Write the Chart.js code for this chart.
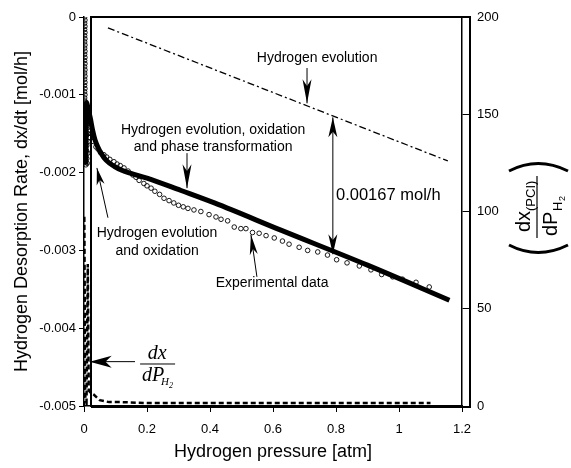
<!DOCTYPE html>
<html>
<head>
<meta charset="utf-8">
<script src="https://cdn.jsdelivr.net/npm/chart.js@4.4.0/dist/chart.umd.min.js"></script>
<style>
  html, body { margin: 0; padding: 0; background: #fff; }
</style>
</head>
<body>
<canvas id="chart" width="571" height="468"></canvas>
<script>
const SANS = '"Liberation Sans", Arial, Helvetica, sans-serif';
const SERIF = '"Liberation Serif", "Times New Roman", serif';

// axis ticks
const pressureTicks = [0, 0.2, 0.4, 0.6, 0.8, 1, 1.2];
const pressureLabels = ['0', '0.2', '0.4', '0.6', '0.8', '1', '1.2'];
const rateTicks = [0, -0.001, -0.002, -0.003, -0.004, -0.005];
const rateLabels = ['0', '-0.001', '-0.002', '-0.003', '-0.004', '-0.005'];
const slopeTicks = [0, 50, 100, 150, 200];
const slopeLabels = ['0', '50', '100', '150', '200'];

// experimental data (circles)
const expPressure = [
  0.002, 0.003, 0.002, 0.003, 0.002, 0.003, 0.002, 0.003, 0.002, 0.003,
  0.002, 0.003, 0.002, 0.003, 0.002, 0.003, 0.002, 0.003, 0.002, 0.003,
  0.002, 0.003, 0.002, 0.003, 0.002, 0.003, 0.002, 0.003,
  0.006, 0.010, 0.014, 0.004, 0.008, 0.012, 0.016, 0.005, 0.009, 0.013,
  0.018, 0.004, 0.008, 0.012, 0.016, 0.005, 0.009, 0.013, 0.004, 0.008,
  0.012, 0.005, 0.009, 0.006, 0.010,
  0.022, 0.030, 0.038, 0.045, 0.052, 0.063, 0.072, 0.082, 0.095, 0.105,
  0.115, 0.127, 0.140, 0.155, 0.165, 0.175, 0.190, 0.200, 0.213, 0.225,
  0.240, 0.254, 0.270, 0.285, 0.300, 0.315, 0.330,
  0.349, 0.371, 0.397, 0.419, 0.435, 0.456, 0.477, 0.498, 0.514, 0.535,
  0.556, 0.578, 0.604, 0.630, 0.651, 0.683, 0.710, 0.742, 0.773, 0.802,
  0.835, 0.874, 0.911, 0.945, 0.980, 1.011, 1.054, 1.096
];
const expRate = [
  0, -0.00004, -0.00008, -0.00012, -0.00016, -0.0002, -0.00024, -0.00028, -0.00032, -0.00036,
  -0.0004, -0.00044, -0.00048, -0.00052, -0.00056, -0.0006, -0.00064, -0.00068, -0.00072, -0.00076,
  -0.0008, -0.00084, -0.00088, -0.00092, -0.00096, -0.001, -0.00104, -0.00108,
  -0.00112, -0.00115, -0.0012, -0.0012, -0.00125, -0.0013, -0.00128, -0.0014, -0.00138, -0.00142,
  -0.0014, -0.0015, -0.00152, -0.0015, -0.00155, -0.0016, -0.00165, -0.0016, -0.0017, -0.00172,
  -0.00175, -0.0018, -0.00182, -0.0019, -0.00188,
  -0.0015, -0.0016, -0.00167, -0.0017, -0.00174, -0.00177, -0.0018, -0.00183, -0.00186, -0.00189,
  -0.00191, -0.00194, -0.00198, -0.00203, -0.00206, -0.0021, -0.00214, -0.00217, -0.0022, -0.00224,
  -0.00228, -0.00233, -0.00236, -0.00239, -0.00242, -0.00244, -0.00246,
  -0.00248, -0.0025, -0.00254, -0.00257, -0.0026, -0.00262, -0.0027, -0.00272, -0.00272, -0.00277,
  -0.00278, -0.00281, -0.00284, -0.00288, -0.00292, -0.00296, -0.003, -0.00302, -0.00306, -0.00312,
  -0.00316, -0.0032, -0.00325, -0.00331, -0.00334, -0.00337, -0.00341, -0.00347
];

// model: hydrogen evolution, oxidation and phase transformation
const modelPressure = [0.006, 0.008, 0.010, 0.014, 0.020, 0.027, 0.035, 0.045, 0.054, 0.070, 0.096, 0.120, 0.149, 0.200, 0.308, 0.414, 0.625, 0.900, 1.160];
const modelRate = [-0.0019, -0.0011, -0.00112, -0.0012, -0.0013, -0.00145, -0.00158, -0.00168, -0.00175, -0.00184, -0.00192, -0.00197, -0.00201, -0.00207, -0.00223, -0.00239, -0.00274, -0.00319, -0.00364];

// model: hydrogen evolution only
const evolutionPressure = [0.076, 1.155];
const evolutionRate = [-0.00014, -0.00185];

// dx(PCI)/dP_H2 on the right axis
const slopePressure = [0, 0.001, 0.004, 0.008, 0.012, 0.015, 0.020, 0.030, 0.050, 0.080, 0.120, 0.200, 0.400, 0.600, 0.800, 1.000, 1.100];
const slopeValue = [0, 98, 5, 2, 73, 8, 7, 6, 3, 2, 2, 1.5, 1.5, 1.5, 1.5, 1.5, 1.5];

function toPoints(xs, ys) {
  return xs.map((x, i) => ({ x: x, y: ys[i] }));
}

function labelFor(ticks, labels) {
  return function (value) {
    const i = ticks.findIndex(t => Math.abs(t - value) < 1e-9);
    return i >= 0 ? labels[i] : '';
  };
}

function drawArrowHead(ctx, x1, y1, x2, y2, len, width) {
  const a = Math.atan2(y2 - y1, x2 - x1);
  const c = Math.cos(a), s = Math.sin(a);
  const bx = x2 - c * len, by = y2 - s * len;
  const nx = x2 - c * len * 0.72, ny = y2 - s * len * 0.72;
  ctx.beginPath();
  ctx.moveTo(x2, y2);
  ctx.lineTo(bx - s * width / 2, by + c * width / 2);
  ctx.lineTo(nx, ny);
  ctx.lineTo(bx + s * width / 2, by - c * width / 2);
  ctx.closePath();
  ctx.fill();
}

function drawArrow(ctx, x1, y1, x2, y2, len, width, both) {
  ctx.beginPath();
  ctx.moveTo(x1, y1);
  ctx.lineTo(x2, y2);
  ctx.stroke();
  drawArrowHead(ctx, x1, y1, x2, y2, len, width);
  if (both) drawArrowHead(ctx, x2, y2, x1, y1, len, width);
}

const notesPlugin = {
  id: 'notes',
  afterDatasetsDraw(chart) {
    const { ctx, chartArea, scales } = chart;
    const px = v => scales.x.getPixelForValue(v);
    const py = v => scales.y.getPixelForValue(v);
    const l = chartArea.left, r = chartArea.right, t = chartArea.top, b = chartArea.bottom;

    ctx.save();
    ctx.strokeStyle = '#000';
    ctx.fillStyle = '#000';

    // outer frame
    ctx.lineWidth = 2;
    ctx.beginPath();
    ctx.moveTo(l + 7, b + 1);
    ctx.lineTo(l + 7, t);
    ctx.lineTo(r + 8, t);
    ctx.lineTo(r + 8, b + 1);
    ctx.lineTo(l + 7, b + 1);
    ctx.stroke();

    // labels
    ctx.textAlign = 'center';
    ctx.textBaseline = 'middle';
    ctx.font = '14px ' + SANS;
    ctx.fillText('Hydrogen evolution', px(0.74), py(-0.000527));
    ctx.fillText('Hydrogen evolution, oxidation', px(0.41), py(-0.00145));
    ctx.fillText('and phase transformation', px(0.41), py(-0.00145) + 17);
    ctx.fillText('Hydrogen evolution', px(0.232), py(-0.00278));
    ctx.fillText('and oxidation', px(0.232), py(-0.00278) + 18);
    ctx.fillText('Experimental data', px(0.597), py(-0.00342));
    ctx.textAlign = 'left';
    ctx.font = '16.5px ' + SANS;
    ctx.fillText('0.00167 mol/h', px(0.8), py(-0.0023));

    // arrows
    ctx.lineWidth = 1;
    drawArrow(ctx, px(0.708), py(-0.000656), px(0.708), py(-0.00111), 24, 9, false);
    drawArrow(ctx, px(0.327), py(-0.00175), px(0.327), py(-0.0022), 24, 9, false);
    drawArrow(ctx, px(0.79), py(-0.00129), px(0.79), py(-0.00305), 20, 9, true);
    drawArrow(ctx, px(0.076), py(-0.00258), px(0.041), py(-0.00194), 17, 8, false);
    drawArrow(ctx, px(0.549), py(-0.00334), px(0.53), py(-0.0028), 20, 8, false);
    drawArrow(ctx, px(0.162), py(-0.00443), px(0.018), py(-0.00443), 22, 12, false);

    // dx/dP_H2 fraction
    const fx = px(0.232), fy = py(-0.00446);
    ctx.lineWidth = 1;
    ctx.beginPath();
    ctx.moveTo(fx - 17, fy);
    ctx.lineTo(fx + 18, fy);
    ctx.stroke();
    ctx.textBaseline = 'alphabetic';
    ctx.textAlign = 'center';
    ctx.font = 'italic 20px ' + SERIF;
    ctx.fillText('dx', fx, fy - 5);
    ctx.textAlign = 'left';
    ctx.fillText('dP', fx - 15, fy + 17);
    ctx.font = 'italic 11px ' + SERIF;
    ctx.fillText('H', fx + 4, fy + 21);
    ctx.font = 'italic 8px ' + SERIF;
    ctx.fillText('2', fx + 12, fy + 24);

    // right axis title: (dx(PCI) / dP_H2)
    ctx.translate(537, 208);
    ctx.rotate(-Math.PI / 2);
    ctx.lineWidth = 1.2;
    ctx.beginPath();
    ctx.moveTo(-30, 0);
    ctx.lineTo(32, 0);
    ctx.stroke();
    ctx.font = '20px ' + SANS;
    ctx.fillText('dx', -24, -7);
    ctx.fillText('dP', -28, 20);
    ctx.font = '13px ' + SANS;
    ctx.fillText('(PCI)', -3, -2);
    ctx.fillText('H', -3, 25);
    ctx.font = '9px ' + SANS;
    ctx.fillText('2', 7, 28);
    ctx.lineWidth = 3;
    ctx.beginPath();
    ctx.moveTo(-37, -28);
    ctx.quadraticCurveTo(-52, 1, -37, 31);
    ctx.stroke();
    ctx.beginPath();
    ctx.moveTo(37, -28);
    ctx.quadraticCurveTo(52, 1, 37, 31);
    ctx.stroke();
    ctx.restore();
  }
};

const tickFont = { family: SANS, size: 13 };
const titleFont = { family: SANS, size: 18 };

new Chart(document.getElementById('chart'), {
  type: 'scatter',
  data: {
    datasets: [
      {
        label: 'Experimental data',
        data: toPoints(expPressure, expRate),
        showLine: false,
        pointRadius: 2.3,
        pointBorderWidth: 0.9,
        pointBorderColor: '#000',
        pointBackgroundColor: 'rgba(0,0,0,0)',
        yAxisID: 'y'
      },
      {
        label: 'Hydrogen evolution, oxidation and phase transformation',
        data: toPoints(modelPressure, modelRate),
        showLine: true,
        borderColor: '#000',
        borderWidth: 5,
        pointRadius: 0,
        cubicInterpolationMode: 'monotone',
        yAxisID: 'y'
      },
      {
        label: 'Hydrogen evolution',
        data: toPoints(evolutionPressure, evolutionRate),
        showLine: true,
        borderColor: '#000',
        borderWidth: 1.3,
        borderDash: [7, 3, 2, 3],
        pointRadius: 0,
        yAxisID: 'y'
      },
      {
        label: 'dx/dP',
        data: toPoints(slopePressure, slopeValue),
        showLine: true,
        borderColor: '#000',
        borderWidth: 2.5,
        borderDash: [5, 3],
        pointRadius: 0,
        yAxisID: 'y2'
      }
    ]
  },
  options: {
    responsive: false,
    animation: false,
    layout: { padding: { top: 17, left: 0, right: 0, bottom: 0 } },
    plugins: { legend: { display: false }, tooltip: { enabled: false } },
    scales: {
      x: {
        type: 'linear',
        min: 0,
        max: 1.2,
        afterBuildTicks: s => { s.ticks = pressureTicks.map(v => ({ value: v })); },
        afterFit: s => { s.height = 62; },
        ticks: { color: '#000', font: tickFont, padding: 10, maxRotation: 0, callback: labelFor(pressureTicks, pressureLabels) },
        grid: { drawOnChartArea: false, color: '#000', tickLength: 6 },
        border: { color: '#000', width: 1.5 },
        title: { display: true, text: 'Hydrogen pressure [atm]', color: '#000', font: titleFont, padding: { top: 0, bottom: 5 } }
      },
      y: {
        type: 'linear',
        position: 'left',
        min: -0.005,
        max: 0,
        afterBuildTicks: s => { s.ticks = rateTicks.slice().reverse().map(v => ({ value: v })); },
        afterFit: s => { s.width = 84; },
        ticks: { color: '#000', font: tickFont, padding: 3, callback: labelFor(rateTicks, rateLabels) },
        grid: { drawOnChartArea: false, color: '#000', tickLength: 5 },
        border: { color: '#000', width: 1.5 },
        title: { display: true, text: 'Hydrogen Desorption Rate, dx/dt [mol/h]', color: '#000', font: titleFont, padding: { top: 11, bottom: 0 } }
      },
      y2: {
        type: 'linear',
        position: 'right',
        min: 0,
        max: 200,
        afterBuildTicks: s => { s.ticks = slopeTicks.map(v => ({ value: v })); },
        afterFit: s => { s.width = 109; },
        ticks: { color: '#000', font: tickFont, padding: 7, callback: labelFor(slopeTicks, slopeLabels) },
        grid: { drawOnChartArea: false, color: '#000', tickLength: 8 },
        border: { color: '#000', width: 1.5 }
      }
    }
  },
  plugins: [notesPlugin]
});
</script>
</body>
</html>
